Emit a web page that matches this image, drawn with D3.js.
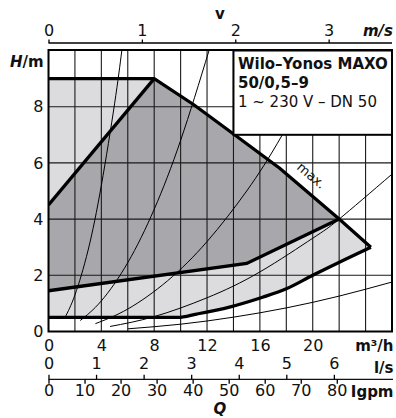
<!DOCTYPE html>
<html><head><meta charset="utf-8">
<script src="https://cdn.jsdelivr.net/npm/d3@7"></script>
<style>
body{margin:0;background:#fff}
svg{display:block}
text{font-family:"DejaVu Sans",sans-serif;fill:#111}
</style>
</head><body>
<svg id="c" width="396" height="418"></svg>
<script>
// ---- data ----
const qTicks = [0, 4, 8, 12, 16, 20];            // m³/h
const hTicks = [0, 2, 4, 6, 8];                  // m
const vTicks = [0, 1, 2, 3];                     // m/s (DN 50)
const lsTicks = [0, 1, 2, 3, 4, 5, 6];           // l/s
const igpmTicks = [0, 10, 20, 30, 40, 50, 60, 70, 80];

// max curve (outer boundary top/right)
const maxQ = [0, 8, 11, 14.26, 17.5, 22, 24.4];
const maxH = [9, 9, 8.07, 6.94, 5.81, 4, 3];
// min curve (outer boundary bottom)
const minQ = [0, 9.8, 11.2, 13.7, 16.2, 18, 20, 22.6, 24.4];
const minH = [0.5, 0.5, 0.62, 0.87, 1.22, 1.52, 2.0, 2.6, 3.0];
// dark (dp-v) region
const darkTopQ = [0, 8, 11, 14.26, 17.5, 22];
const darkTopH = [4.5, 9, 8.07, 6.94, 5.81, 4];
const darkBotQ = [0, 15, 22];
const darkBotH = [1.45, 2.42, 4];
// system curves (read points)
const sysA_Q = [1.25, 2, 3, 4, 5, 5.55];
const sysA_H = [0.5, 1.3, 2.9, 5.2, 8.1, 10];
const sysB_Q = [2.4, 4, 6, 8, 10, 12.15];
const sysB_H = [0.39, 1.09, 2.45, 4.35, 6.8, 10];
const sysC_Q = [3.55, 6, 9, 12, 15, 17.7, 21.2];
const sysC_H = [0.28, 0.8, 1.8, 3.2, 5.0, 7.0, 10];
const sysD_Q = [4.66, 8, 12, 16, 20, 22, 26];
const sysD_H = [0.18, 0.53, 1.2, 2.12, 3.32, 4.0, 5.6];
const sysE_Q = [6, 10, 14, 18, 22, 26];
const sysE_H = [0.095, 0.26, 0.51, 0.84, 1.26, 1.76];

const FONT = "DejaVu Sans";

// ---- scales ----
const svg = d3.select("#c");
const X0 = 48.5, X1 = 392, Y0 = 331.5, Y1 = 50.5;
const x = d3.scaleLinear().domain([0, 26]).range([X0, X1]);
const y = d3.scaleLinear().domain([0, 10]).range([Y0, Y1]);
const M3H_PER_MS = 3600 * Math.PI * 0.025 * 0.025; // DN 50
const xv = d3.scaleLinear().domain([0, 26 / M3H_PER_MS]).range([X0, X1]);
const xls = d3.scaleLinear().domain([0, 26 / 3.6]).range([X0, X1]);
const xig = d3.scaleLinear().domain([0, 26 / 0.272765]).range([X0, X1]);

const zip = (a, b) => a.map((v, i) => [v, b[i]]);
const lin = d3.line().x(d => x(d[0])).y(d => y(d[1]));
const mono = d3.line().x(d => x(d[0])).y(d => y(d[1])).curve(d3.curveMonotoneX);

const maxPts = zip(maxQ, maxH);
const minPts = zip(minQ, minH);

// clip
svg.append("clipPath").attr("id", "pc").append("rect")
  .attr("x", X0).attr("y", Y1).attr("width", X1 - X0).attr("height", Y0 - Y1);
const plot = svg.append("g").attr("clip-path", "url(#pc)");

// light region
const lightPath = mono(minPts) + lin(maxPts.slice().reverse()).replace(/^M/, "L") + "Z";
plot.append("path").attr("d", lightPath).attr("fill", "#dcdcdf");
// dark region
const darkPath = lin(zip(darkTopQ, darkTopH)) + lin(zip(darkBotQ, darkBotH).reverse()).replace(/^M/, "L") + "Z";
plot.append("path").attr("d", darkPath).attr("fill", "#a8a8ac");

// grid
const gx = d3.range(0, 27, 2), gy = d3.range(0, 11, 2);
plot.append("g").selectAll("line").data(gx).join("line")
  .attr("x1", d => x(d)).attr("x2", d => x(d)).attr("y1", Y0).attr("y2", Y1)
  .attr("stroke", "#1a1a1a").attr("stroke-width", 1.1);
plot.append("g").selectAll("line").data(gy).join("line")
  .attr("y1", d => y(d)).attr("y2", d => y(d)).attr("x1", X0).attr("x2", X1)
  .attr("stroke", "#1a1a1a").attr("stroke-width", 1.1);

// system curves
const sys = [zip(sysA_Q, sysA_H), zip(sysB_Q, sysB_H), zip(sysC_Q, sysC_H), zip(sysD_Q, sysD_H), zip(sysE_Q, sysE_H)];
plot.append("g").selectAll("path").data(sys).join("path")
  .attr("d", d => d3.line().x(p => x(p[0])).y(p => y(p[1])).curve(d3.curveNatural)(d))
  .attr("fill", "none").attr("stroke", "#000").attr("stroke-width", 1);

// thick lines
const thick = g => g.attr("fill", "none").attr("stroke", "#000").attr("stroke-width", 3.3).attr("stroke-linejoin", "miter");
plot.append("path").attr("d", lin(maxPts)).call(thick);
plot.append("path").attr("d", mono(minPts)).call(thick);
plot.append("path").attr("d", lin(zip(darkTopQ.slice(0, 2), darkTopH.slice(0, 2)))).call(thick);
plot.append("path").attr("d", lin(zip(darkBotQ, darkBotH))).call(thick);
plot.append("path").attr("d", lin([maxPts[maxPts.length - 1], minPts[minPts.length - 1]])).call(thick);

// max. label
const ang = Math.atan2(y(4) - y(5.81), x(22) - x(17.5)) * 180 / Math.PI;
svg.append("text").attr("transform", `translate(${x(19.9)},${y(5.55)}) rotate(${ang})`)
  .attr("text-anchor", "middle").attr("dy", "0.35em").attr("font-size", 13).text("max.");

// text box
svg.append("rect").attr("x", x(14)).attr("y", y(10)).attr("width", x(26) - x(14)).attr("height", y(7) - y(10))
  .attr("fill", "#fff").attr("stroke", "#000").attr("stroke-width", 2);
const tb = svg.append("g").attr("font-size", 15);
tb.append("text").attr("x", x(14) + 4.5).attr("y", 68.5).attr("font-weight", "bold").text("Wilo–Yonos MAXO");
tb.append("text").attr("x", x(14) + 4.5).attr("y", 87.5).attr("font-weight", "bold").text("50/0,5–9");
tb.append("text").attr("x", x(14) + 4.5).attr("y", 106.5).text("1 ~ 230 V – DN 50");

// frame
svg.append("rect").attr("x", X0).attr("y", Y1 - 0.5).attr("width", X1 - X0).attr("height", Y0 - Y1 + 0.5)
  .attr("fill", "none").attr("stroke", "#000").attr("stroke-width", 2);

const styleText = g => g.selectAll("text").attr("font-size", 16).attr("font-family", FONT).attr("fill", "#111");

// y axis labels
const ya = d3.axisLeft(y).tickValues(hTicks).tickSize(0).tickPadding(5).tickFormat(d3.format("d"));
svg.append("g").attr("transform", `translate(${X0},0)`).call(ya)
  .call(g => g.select(".domain").remove()).call(styleText);

// top axis (v)
const ta = d3.axisTop(xv).tickValues(vTicks).tickSize(3.5).tickPadding(4).tickFormat(d3.format("d"));
svg.append("g").attr("transform", "translate(0,43)").call(ta)
  .call(g => g.select(".domain").attr("d", `M${X0},0H${X1}`).attr("stroke-width", 1.3))
  .call(g => g.selectAll("line").attr("stroke-width", 1.3))
  .call(styleText);
svg.append("text").attr("x", 220).attr("y", 18.5).attr("text-anchor", "middle")
  .attr("font-weight", "bold").attr("font-size", 15).text("v");
svg.append("text").attr("x", 393).attr("y", 35.5).attr("text-anchor", "end")
  .attr("font-weight", "bold").attr("font-style", "italic").attr("font-size", 15).text("m/s");
const hm = svg.append("text").attr("x", 10).attr("y", 67).attr("font-weight", "bold").attr("font-size", 15);
hm.append("tspan").attr("font-style", "italic").text("H");
hm.append("tspan").text("/m");

// bottom m³/h labels
const ba = d3.axisBottom(x).tickValues(qTicks).tickSize(0).tickPadding(0).tickFormat(d3.format("d"));
svg.append("g").attr("transform", "translate(0,339)").call(ba)
  .call(g => g.select(".domain").remove()).call(styleText)
  .call(g => g.selectAll("text").attr("dy", "0.72em"));
svg.append("text").attr("x", 393.5).attr("y", 350.5).attr("text-anchor", "end")
  .attr("font-weight", "bold").attr("font-size", 15).text("m³/h");

// l/s (ticks up) and igpm (ticks down) on one line
const AXY = 379.3;
svg.append("line").attr("x1", X0).attr("x2", X1 + 1).attr("y1", AXY).attr("y2", AXY).attr("stroke", "#111").attr("stroke-width", 1.3);
const la = d3.axisTop(xls).tickValues(lsTicks).tickSize(4.5).tickPadding(6).tickFormat(d3.format("d"));
svg.append("g").attr("transform", `translate(0,${AXY})`).call(la)
  .call(g => g.select(".domain").remove())
  .call(g => g.selectAll("line").attr("stroke-width", 1.3))
  .call(styleText);
svg.append("text").attr("x", 393.5).attr("y", 373).attr("text-anchor", "end")
  .attr("font-weight", "bold").attr("font-size", 15).text("l/s");
const ia = d3.axisBottom(xig).tickValues(igpmTicks).tickSize(4.5).tickPadding(0).tickFormat(d3.format("d"));
svg.append("g").attr("transform", `translate(0,${AXY})`).call(ia)
  .call(g => g.select(".domain").remove())
  .call(g => g.selectAll("line").attr("stroke-width", 1.3))
  .call(styleText)
  .call(g => g.selectAll("text").attr("y", 5.5).attr("dy", "0.72em"));
svg.append("text").attr("x", 393.5).attr("y", 396.5).attr("text-anchor", "end")
  .attr("font-weight", "bold").attr("font-size", 15).text("Igpm");
svg.append("text").attr("x", 220).attr("y", 413.5).attr("text-anchor", "middle")
  .attr("font-weight", "bold").attr("font-style", "italic").attr("font-size", 15).text("Q");
</script>
</body></html>
